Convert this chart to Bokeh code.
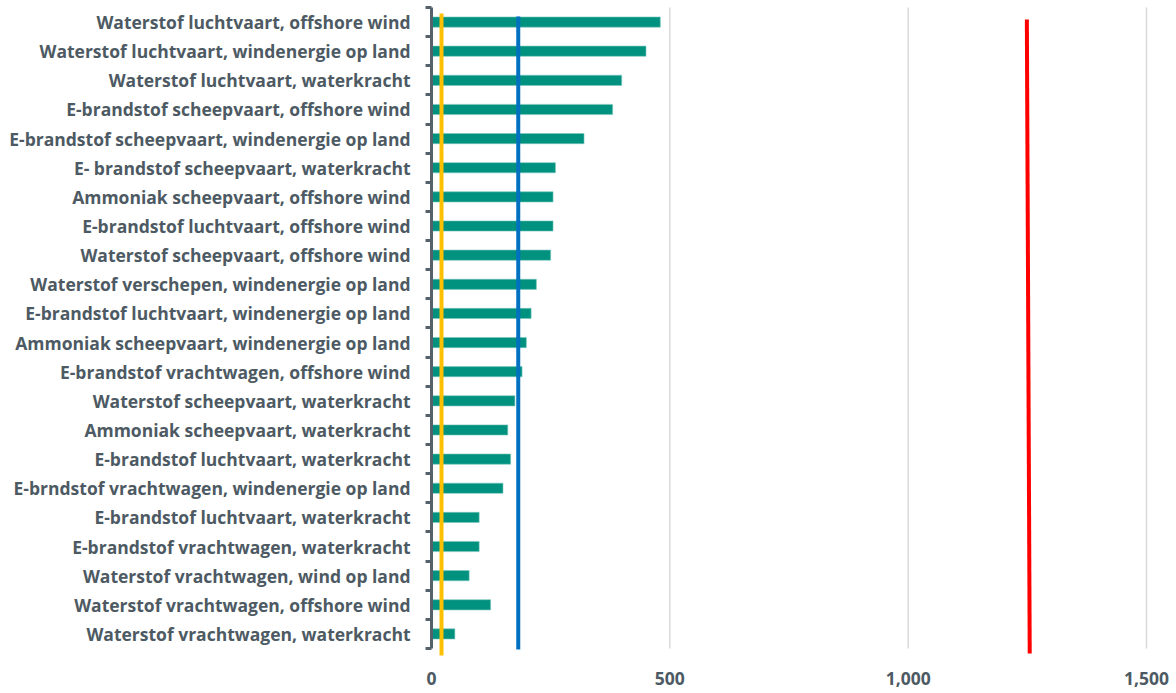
from bokeh.plotting import figure
from bokeh.models import Range1d, FixedTicker, NumeralTickFormatter, ColumnDataSource
from bokeh.embed import file_html
from bokeh.resources import INLINE

categories = [
    "Waterstof luchtvaart, offshore wind",
    "Waterstof luchtvaart, windenergie op land",
    "Waterstof luchtvaart, waterkracht",
    "E-brandstof scheepvaart, offshore wind",
    "E-brandstof scheepvaart, windenergie op land",
    "E- brandstof scheepvaart, waterkracht",
    "Ammoniak scheepvaart, offshore wind",
    "E-brandstof luchtvaart, offshore wind",
    "Waterstof scheepvaart, offshore wind",
    "Waterstof verschepen, windenergie op land",
    "E-brandstof luchtvaart, windenergie op land",
    "Ammoniak scheepvaart, windenergie op land",
    "E-brandstof vrachtwagen, offshore wind",
    "Waterstof scheepvaart, waterkracht",
    "Ammoniak scheepvaart, waterkracht",
    "E-brandstof luchtvaart, waterkracht",
    "E-brndstof vrachtwagen, windenergie op land",
    "E-brandstof luchtvaart, waterkracht",
    "E-brandstof vrachtwagen, waterkracht",
    "Waterstof vrachtwagen, wind op land",
    "Waterstof vrachtwagen, offshore wind",
    "Waterstof vrachtwagen, waterkracht",
]
values = [480, 450, 399, 380, 320, 260, 255, 255, 250, 220, 209, 199,
          190, 175, 160, 166, 150, 100, 100, 79, 124, 49]

# reference lines (value at top / bottom of the line)
ref_x_top = [21, 182, 1249]
ref_x_bottom = [21, 182, 1255]
ref_colors = ["#FFC000", "#0070C0", "#FF0000"]

x_ticks = [0, 500, 1000, 1500]

N = len(categories)
ypos = [N - 1 - i for i in range(N)]

label_color = "#4d5a63"
axis_color = "#56626b"
font = "Open Sans"

p = figure(width=1176, height=693, output_backend="svg", toolbar_location=None,
           x_range=Range1d(0, 1508.4), y_range=Range1d(-0.809, N - 0.5 + 0.103),
           min_border_left=431, min_border_right=26, min_border_top=4,
           min_border_bottom=36)
p.outline_line_color = None
p.xgrid.visible = False
p.ygrid.visible = False

# vertical gridlines
p.segment(x0=x_ticks[1:], x1=x_ticks[1:], y0=[-0.5] * 3, y1=[N - 0.5] * 3,
          line_color="#d9d9d9", line_width=1.5)

src = ColumnDataSource(dict(y=ypos, v=values))
p.hbar(y="y", left=0, right="v", height=0.35, source=src,
       fill_color="#00917f", line_color="#7cc7bd", line_width=0.6)

# reference lines
y_tops = [N - 0.5 - 6 / 29.136, N - 0.5 - 9 / 29.136, N - 0.5 - 12 / 29.136]
y_bots = [-0.5 - 7 / 29.136, -0.5 - 1 / 29.136, -0.5 - 5 / 29.136]
for xt, xb, yt, yb, c in zip(ref_x_top, ref_x_bottom, y_tops, y_bots, ref_colors):
    p.line(x=[xt, xb], y=[yt, yb], line_color=c, line_width=4)

# y axis
ya = p.yaxis[0]
ya.ticker = FixedTicker(ticks=ypos, minor_ticks=[k - 0.5 for k in range(N + 1)])
ya.bounds = (-0.5, N - 0.5)
ya.major_label_overrides = {y: c for y, c in zip(ypos, categories)}
ya.axis_line_color = axis_color
ya.axis_line_width = 3
ya.major_tick_line_color = None
ya.major_tick_out = 0
ya.major_tick_in = 0
ya.minor_tick_line_color = axis_color
ya.minor_tick_line_width = 3
ya.minor_tick_out = 6
ya.minor_tick_in = 0
ya.major_label_standoff = 15
ya.major_label_text_font = font
ya.major_label_text_font_style = "bold"
ya.major_label_text_font_size = "17.5px"
ya.major_label_text_color = label_color

# x axis
xa = p.xaxis[0]
xa.ticker = FixedTicker(ticks=x_ticks)
xa.formatter = NumeralTickFormatter(format="0,0")
xa.axis_line_color = None
xa.major_tick_line_color = None
xa.minor_tick_line_color = None
xa.major_tick_out = 0
xa.major_tick_in = 0
xa.major_label_standoff = 14
xa.major_label_text_font = font
xa.major_label_text_font_style = "bold"
xa.major_label_text_font_size = "17.5px"
xa.major_label_text_color = label_color

open("out.html", "w").write(file_html(p, INLINE))
